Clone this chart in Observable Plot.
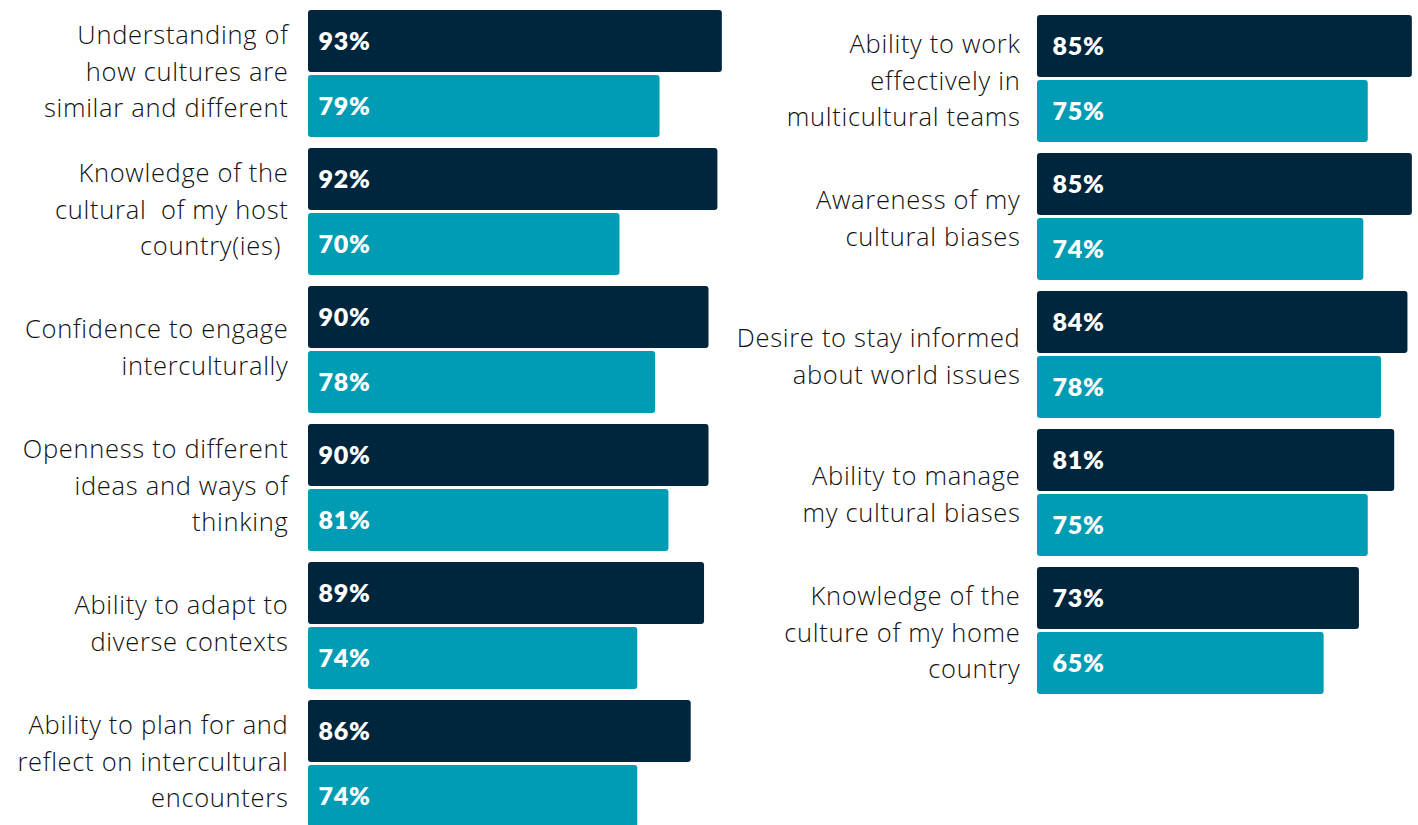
<!DOCTYPE html>
<html><head><meta charset="utf-8">
<script src="https://cdn.jsdelivr.net/npm/d3@7"></script>
<script src="https://cdn.jsdelivr.net/npm/@observablehq/plot@0.6"></script>
<style>
html,body{margin:0;padding:0;background:#fff;overflow:hidden;width:1418px;height:825px}
#left{position:absolute;left:0;top:0}
#right{position:absolute;left:730px;top:0}
</style></head>
<body><div id="left"></div><div id="right"></div>
<script>
const seriesNames = ["Series 1", "Series 2"];
const seriesColors = ["#00263d", "#009cb4"];

const leftCategories = [
  "Understanding of\nhow cultures are\nsimilar and different",
  "Knowledge of the\ncultural  of my host\ncountry(ies) ",
  "Confidence to engage\ninterculturally",
  "Openness to different\nideas and ways of\nthinking",
  "Ability to adapt to\ndiverse contexts",
  "Ability to plan for and\nreflect on intercultural\nencounters"
];
const leftSeries1 = [93, 92, 90, 90, 89, 86];
const leftSeries2 = [79, 70, 78, 81, 74, 74];

const rightCategories = [
  "Ability to work\neffectively in\nmulticultural teams",
  "Awareness of my\ncultural biases",
  "Desire to stay informed\nabout world issues",
  "Ability to manage\nmy cultural biases",
  "Knowledge of the\nculture of my home\ncountry"
];
const rightSeries1 = [85, 85, 84, 81, 73];
const rightSeries2 = [75, 74, 78, 75, 65];

function panel(cats, s1, s2, o) {
  const data = [];
  cats.forEach((c, i) => {
    data.push({category: c, series: seriesNames[0], value: s1[i]});
    data.push({category: c, series: seriesNames[1], value: s2[i]});
  });
  const step = 138, gap = 11;
  const height = o.top + cats.length * step - gap + o.bottom;
  return Plot.plot({
    width: o.width,
    height,
    marginTop: o.top,
    marginBottom: o.bottom,
    marginLeft: o.x0,
    marginRight: 0,
    style: {fontFamily: "'Open Sans', sans-serif", fontSize: "25px", color: "#111", background: "white", letterSpacing: "0.7px"},
    x: {domain: [0, 100], range: [o.x0, o.x0 + o.pxPer * 100], axis: null},
    y: {domain: seriesNames, paddingInner: 3 / 64.5, paddingOuter: 0, axis: null},
    fy: {domain: cats, paddingInner: gap / step, paddingOuter: 0, axis: null},
    color: {domain: seriesNames, range: seriesColors},
    marks: [
      Plot.barX(data, {fy: "category", y: "series", x: "value", fill: "series", rx: 3}),
      Plot.text(data, {fy: "category", y: "series", x: 0, text: d => d.value + "%", dx: o.valueDx,
        textAnchor: "start", fill: "white", fontWeight: 800, fontSize: 25, fontFamily: "Lato, sans-serif"}),
      Plot.text(cats, {fy: d => d, text: d => d, frameAnchor: "left", dx: o.labelDx, dy: o.labelDy,
        textAnchor: "end", lineHeight: 1.42, fontSize: 25.5, fontWeight: 300, fill: "#111"})
    ]
  });
}

document.getElementById("left").append(panel(leftCategories, leftSeries1, leftSeries2,
  {width: 730, top: 10, bottom: 3, x0: 308, pxPer: 4.45, valueDx: 10, labelDx: -20, labelDy: -5}));
document.getElementById("right").append(panel(rightCategories, rightSeries1, rightSeries2,
  {width: 688, top: 15, bottom: 5, x0: 307, pxPer: 4.41, valueDx: 15, labelDx: -17, labelDy: -1}));
</script></body></html>
